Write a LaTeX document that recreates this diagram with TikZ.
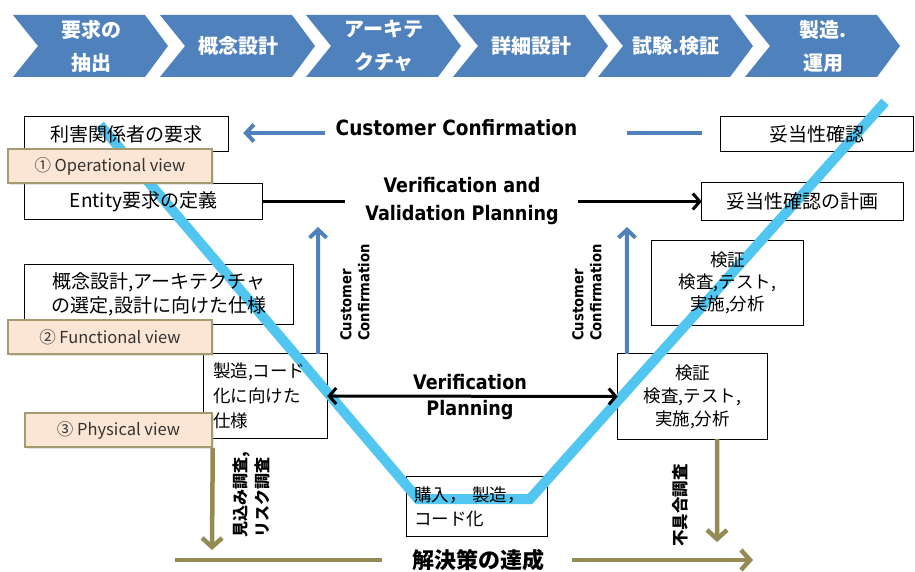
\documentclass[tikz,border=0pt]{standalone}
\usepackage{fontspec}
\setmainfont{Noto Sans CJK JP}
\newfontfamily\latinfont[FakeStretch=0.88]{DejaVu Sans}
\usetikzlibrary{arrows.meta,shadows}

\definecolor{stageblue}{HTML}{4F81BD}
\definecolor{vcyan}{HTML}{50C6F0}
\definecolor{olivebrown}{HTML}{948A54}
\definecolor{viewfill}{HTML}{FBE6D5}
\definecolor{viewedge}{HTML}{A39C72}

\pgfdeclarelayer{frames}
\pgfdeclarelayer{vee}
\pgfdeclarelayer{front}
\pgfsetlayers{frames,vee,main,front}

\tikzset{
  box/.style={inner sep=0pt, align=center, font=\fontsize{19}{24}\selectfont},
  frame/.style={draw=black, line width=1.2pt},
  view/.style={draw=viewedge, line width=1.5pt, fill=viewfill, inner sep=0pt,
    text=black!80, font=\fontsize{16.5}{18}\selectfont,
    drop shadow={shadow xshift=2pt, shadow yshift=-2pt, opacity=0.25, fill=black!40}},
  stagebox/.style={fill=stageblue},
  stagetext/.style={text=white, align=center, inner sep=0pt,
    font=\fontsize{20}{33}\selectfont\bfseries},
  vline/.style={vcyan, line width=10pt},
  bluearrow/.style={stageblue, line width=4pt,
    -{Straight Barb[length=8pt,width=17pt,line width=4pt]}},
  blueline/.style={stageblue, line width=4pt},
  blackline/.style={black, line width=3pt},
  blackarrow/.style={black, line width=3pt,
    -{Straight Barb[length=7pt,width=16pt,line width=3pt]}},
  blackdouble/.style={black, line width=3pt,
    {Straight Barb[length=7pt,width=16pt,line width=3pt]}-{Straight Barb[length=7pt,width=16pt,line width=3pt]}},
  oliveline/.style={olivebrown, line width=4.5pt},
  olivearrow/.style={olivebrown, line width=4.5pt,
    -{Straight Barb[length=9pt,width=20pt,line width=4.5pt]}},
  headline/.style={inner sep=0pt, align=center, font=\latinfont\bfseries\fontsize{20}{28}\selectfont},
  sidelabel/.style={rotate=90, anchor=north west, align=left, inner sep=0pt,
    font=\latinfont\bfseries\fontsize{15}{18}\selectfont},
  jplabel/.style={rotate=90, anchor=north west, align=left, inner sep=0pt,
    font=\bfseries\fontsize{16}{22}\selectfont},
}

\begin{document}
\begin{tikzpicture}[x=1pt, y=-1pt]
\useasboundingbox (0,0) rectangle (915,572);
\begin{pgfonlayer}{frames}
  \fill[white] (0,0) rectangle (915,572);
\end{pgfonlayer}

% life-cycle stages along the top
\foreach \x/\t [count=\i] in {13/{要求の\\抽出}, 160/概念設計, 306/{アーキテ\\クチャ},
                               453/詳細設計, 598/{試験.検証}, 745/{製造.\\運用}} {
  \fill[stagebox] (\x,15) -- ++(132,0) -- ++(23,31) -- ++(-23,31) -- ++(-132,0) -- ++(25,-31) -- cycle;
  \node[stagetext] (stage\i) at (\x+78,46) {\t};
}

% requirement / specification / verification boxes
\node[box, minimum width=203pt, minimum height=34pt] (req)  at (126.5,134)  {利害関係者の要求};
\node[box, minimum width=237pt, minimum height=35pt] (ent)  at (143.5,201.5) {Entity要求の定義};
\node[box, minimum width=192pt, minimum height=34pt] (val)  at (817,134)    {妥当性確認};
\node[box, minimum width=201pt, minimum height=37pt] (valp) at (802.5,201.5) {妥当性確認の計画};
\node[box, minimum width=268pt, minimum height=59pt] (con)  at (159,294.5)  {概念設計,アーキテクチャ\\の選定,設計に向けた仕様};
\node[box, text width=105pt, align=left, inner xsep=9pt, minimum height=84pt,
      font=\fontsize{17.5}{25}\selectfont] (mfg) at (265.5,396) {製造,コード\\化に向けた\\仕様};
\node[box, text width=126pt, align=left, inner xsep=7pt, minimum height=59pt,
      font=\fontsize{17.5}{24}\selectfont] (buy) at (477,506.5) {購入， 製造，\\コード化};
\node[box, minimum width=149pt, minimum height=85pt,
      font=\fontsize{17.5}{23}\selectfont] (ver1) at (692.5,396.5) {検証\\検査,テスト,\\実施,分析};
\node[box, minimum width=151pt, minimum height=84pt,
      font=\fontsize{17.5}{22}\selectfont] (ver2) at (727.5,283) {検証\\検査,テスト,\\実施,分析};

\begin{pgfonlayer}{frames}
  \foreach \n in {req,ent,val,valp,con,mfg,buy,ver1,ver2}
    \draw[frame] (\n.south west) rectangle (\n.north east);
\end{pgfonlayer}

% the V of decomposition and integration
\begin{pgfonlayer}{vee}
  \draw[vline] (100,125) -- (418,499) -- (530,499) -- (885,102);
\end{pgfonlayer}

% viewpoint tags
\begin{pgfonlayer}{front}
  \node[view, minimum width=204pt, minimum height=34pt] (opv) at (110,166)   {① Operational view};
  \node[view, minimum width=204pt, minimum height=34pt] (fnv) at (110,337)   {② Functional view};
  \node[view, minimum width=187pt, minimum height=34pt] (phv) at (118.5,430) {③ Physical view};
\end{pgfonlayer}

% customer confirmation row
\node[headline, font=\latinfont\bfseries\fontsize{21}{26}\selectfont] (cc) at (456.5,128) {Customer Confirmation};
\coordinate (ccL) at (325,133);
\coordinate (ccR) at (627,133);
\draw[bluearrow] (ccL) -- ([xshift=15pt]req.east |- ccL);
\draw[blueline] (ccR) -- ([xshift=-19pt]val.west |- ccR);

% verification and validation planning row
\node[headline] (vvp) at (462,201) {Verification and\\Validation Planning};
\coordinate (vvL) at (345,201.5);
\coordinate (vvR) at (578,201.5);
\draw[blackline] (ent.east) -- (vvL);
\draw[blackarrow] (vvR) -- (valp.west);

% customer confirmation going up from both sides
\coordinate (upL) at (318,227);
\coordinate (upR) at (627,227);
\draw[bluearrow] ([xshift=-9pt]mfg.north east) -- (upL);
\draw[bluearrow] ([xshift=9pt]ver1.north west) -- (upR);
\node[sidelabel] (ccl) at (340,341) {Customer\\Confirmation};
\node[sidelabel] (ccr) at (572,341) {Customer\\Confirmation};

% verification planning between the two lower boxes
\node[headline, font=\latinfont\bfseries\fontsize{20}{26}\selectfont] (vp) at (470,397) {Verification\\Planning};
\draw[blackdouble] (mfg.east) -- (ver1.west);

% investigations and the solution
\coordinate (downL) at (212,550);
\coordinate (downR) at (717,542);
\draw[olivearrow] (phv.south east) -- (downL);
\draw[olivearrow] ([xshift=-50pt]ver1.south east) -- (downR);
\node[jplabel] (risk) at (233,538) {見込み調査,\\リスク調査};
\node[jplabel, font=\bfseries\fontsize{16.5}{22}\selectfont] (defect) at (672,547) {不具合調査};

\node[inner sep=0pt, font=\bfseries\fontsize{22}{26}\selectfont] (goal) at (478,560) {解決策の達成};
\coordinate (goalL) at (175,560);
\coordinate (goalR) at (753,560);
\draw[oliveline] (goalL) -- ([xshift=-30pt]goal.west);
\draw[olivearrow] ([xshift=28pt]goal.east) -- (goalR);
\end{tikzpicture}
\end{document}
